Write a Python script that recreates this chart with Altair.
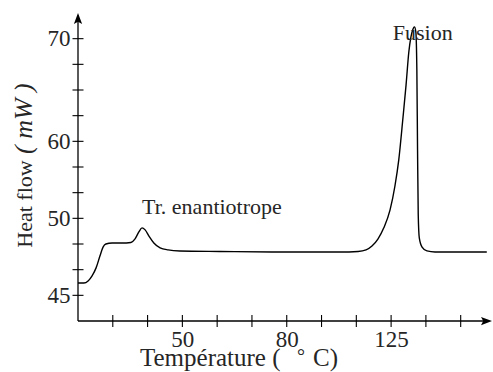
import altair as alt
import pandas as pd

# ---- data (in axis tick units: one unit = one tick interval) ----
temp = [0.00, 0.17, 0.29, 0.40, 0.52, 0.63, 0.72, 0.80, 0.98, 1.26, 1.52, 1.64, 1.75, 1.84,
        1.93, 2.04, 2.18, 2.36, 2.59, 2.93, 4.08, 5.80, 7.53, 8.05, 8.28, 8.45, 8.62, 8.79,
        8.97, 9.11, 9.22, 9.34, 9.43, 9.51, 9.57, 9.63, 9.67, 9.71, 9.74, 9.76, 9.78, 9.81,
        9.89, 10.03, 10.26, 10.69, 11.75]
flow = [1.48, 1.48, 1.56, 1.75, 2.07, 2.53, 2.88, 3.00, 3.04, 3.04, 3.06, 3.20, 3.47, 3.63,
        3.55, 3.31, 3.04, 2.85, 2.77, 2.73, 2.71, 2.69, 2.69, 2.71, 2.77, 2.92, 3.19, 3.63,
        4.33, 5.26, 6.28, 7.91, 9.20, 10.49, 11.07, 11.38, 11.46, 11.27, 9.79, 6.67, 4.13, 3.24,
        2.88, 2.73, 2.69, 2.69, 2.69]

x_tick_pos = list(range(1, 12))
y_tick_pos = list(range(1, 12))
x_label_pos = [3, 6, 9]
x_label_txt = ["50", "80", "125"]
y_label_pos = [1, 4, 7, 11]
y_label_txt = ["45", "50", "60", "70"]

ann_x = [3.85, 9.91]
ann_y = [4.17, 10.95]
ann_text = ["Tr. enantiotrope", "Fusion"]

x_max = 11.9
y_max = 12.0

# ---- layout ----
W, H = 414, 308
FONT = "Liberation Serif, Times New Roman, serif"
INK = "#262626"


def label_expr(pos, txt):
    e = "''"
    for p, t in reversed(list(zip(pos, txt))):
        e = f"datum.value == {p} ? '{t}' : ({e})"
    return e


xs = alt.Scale(domain=[0, x_max], nice=False, zero=False)
ys = alt.Scale(domain=[0, y_max], nice=False, zero=False)

xaxis = alt.Axis(values=x_label_pos, labelExpr=label_expr(x_label_pos, x_label_txt),
                 domain=False, ticks=False, tickSize=0, grid=False, title=None,
                 labelFont=FONT, labelFontSize=23, labelColor=INK, labelPadding=7,
                 labelFlush=False, labelOverlap=False)
yaxis = alt.Axis(values=y_label_pos, labelExpr=label_expr(y_label_pos, y_label_txt),
                 domain=False, ticks=False, tickSize=0, grid=False, title=None,
                 labelFont=FONT, labelFontSize=23, labelColor=INK, labelPadding=8,
                 labelFlush=False, labelOverlap=False)

curve_df = pd.DataFrame({"T": temp, "F": flow})
curve = alt.Chart(curve_df).mark_line(color="black", strokeWidth=1.4, interpolate="monotone").encode(
    x=alt.X("T:Q", scale=xs, axis=xaxis),
    y=alt.Y("F:Q", scale=ys, axis=yaxis),
)

axl_df = pd.DataFrame({"x0": [0, 0], "x1": [x_max - 0.1, 0], "y0": [0, 0], "y1": [0, y_max - 0.1]})
axis_lines = alt.Chart(axl_df).mark_rule(color="black", strokeWidth=1.3).encode(
    x=alt.X("x0:Q", scale=xs, axis=xaxis), x2="x1:Q",
    y=alt.Y("y0:Q", scale=ys, axis=yaxis), y2="y1:Q",
)

xt = alt.Chart(pd.DataFrame({"t": x_tick_pos})).mark_rule(color="black", strokeWidth=1.1).encode(
    x=alt.X("t:Q", scale=xs, axis=xaxis), y=alt.value(H - 6), y2=alt.value(H + 6)
)
yt = alt.Chart(pd.DataFrame({"t": y_tick_pos})).mark_rule(color="black", strokeWidth=1.1).encode(
    y=alt.Y("t:Q", scale=ys, axis=yaxis), x=alt.value(-5.5), x2=alt.value(5.5)
)

up_arrow = "M0,0L0.75,2L0,1.6L-0.75,2Z"
right_arrow = "M0,0L-2,0.75L-1.6,0L-2,-0.75Z"
arr_up = alt.Chart(pd.DataFrame({"ax": [0], "ay": [y_max]})).mark_point(
    shape=up_arrow, size=121, filled=True, color="black", opacity=1, strokeWidth=0
).encode(x=alt.X("ax:Q", scale=xs, axis=xaxis), y=alt.Y("ay:Q", scale=ys, axis=yaxis))
arr_right = alt.Chart(pd.DataFrame({"ax": [x_max], "ay": [0]})).mark_point(
    shape=right_arrow, size=121, filled=True, color="black", opacity=1, strokeWidth=0
).encode(x=alt.X("ax:Q", scale=xs, axis=xaxis), y=alt.Y("ay:Q", scale=ys, axis=yaxis))

ann = alt.Chart(pd.DataFrame({"x": ann_x, "y": ann_y, "s": ann_text})).mark_text(
    font=FONT, fontSize=22, color=INK, align="center", baseline="alphabetic"
).encode(x=alt.X("x:Q", scale=xs, axis=xaxis), y=alt.Y("y:Q", scale=ys, axis=yaxis), text="s:N")

one = pd.DataFrame({"a": [0]})
xtitle_a = alt.Chart(one).mark_text(
    text="Température (", font=FONT, fontSize=25, color=INK, align="left", baseline="alphabetic"
).encode(x=alt.value(62), y=alt.value(353))
xtitle_deg = alt.Chart(one).mark_text(
    text="°", font=FONT, fontSize=20, color=INK, align="center", baseline="alphabetic"
).encode(x=alt.value(223), y=alt.value(350))
xtitle_b = alt.Chart(one).mark_text(
    text="C)", font=FONT, fontSize=25, color=INK, align="left", baseline="alphabetic"
).encode(x=alt.value(235), y=alt.value(353))
ytitle1 = alt.Chart(one).mark_text(
    text="Heat flow", font=FONT, fontSize=22, color=INK, align="center", baseline="alphabetic", angle=270
).encode(x=alt.value(-46), y=alt.value(191))
ytitle2 = alt.Chart(one).mark_text(
    text="( mW )", font=FONT, fontSize=26, fontStyle="italic", color=INK, align="left",
    baseline="alphabetic", angle=270
).encode(x=alt.value(-46), y=alt.value(141))

chart = alt.layer(axis_lines, xt, yt, curve, arr_up, arr_right, ann,
                  xtitle_a, xtitle_deg, xtitle_b, ytitle1, ytitle2).properties(
    width=W, height=H,
    autosize=alt.AutoSizeParams(type="none"),
    padding={"left": 78, "top": 13, "right": 1, "bottom": 51},
    background="white",
).configure_view(stroke=None)

chart.save("out.html", embed_options={"renderer": "svg", "actions": False})
